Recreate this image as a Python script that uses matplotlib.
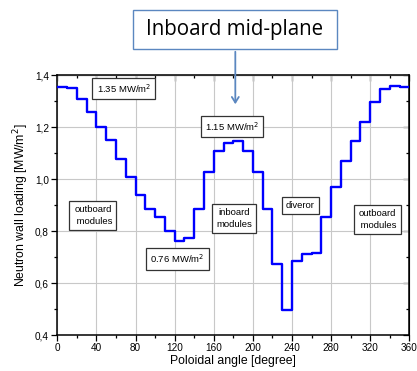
import numpy as np
import matplotlib
matplotlib.use('Agg')
import matplotlib.pyplot as plt
from matplotlib.patches import Rectangle, FancyArrowPatch
from matplotlib.ticker import MultipleLocator, FuncFormatter

plt.rcParams['font.family'] = ['Liberation Sans', 'DejaVu Sans']

# poloidal angle (left edge of each 10 degree module) and wall loading
angle = np.arange(0, 360, 10)
load = [1.355, 1.35, 1.31, 1.26, 1.20, 1.15, 1.08, 1.01, 0.94, 0.885,
        0.853, 0.80, 0.763, 0.775, 0.884, 1.027, 1.109, 1.141, 1.148, 1.11,
        1.03, 0.884, 0.672, 0.495, 0.685, 0.712, 0.715, 0.856, 0.969, 1.071,
        1.149, 1.221, 1.297, 1.349, 1.358, 1.357]

# text boxes: (label, angle, loading)
notes = [
    ('1.35 MW/m$^2$', 68, 1.349),
    ('1.15 MW/m$^2$', 178.6, 1.202),
    ('0.76 MW/m$^2$', 123, 0.693),
    ('outboard\n modules', 36.5, 0.86),
    ('inboard\nmodules', 181, 0.849),
    ('diveror', 248.7, 0.899),
    ('outboard\n modules', 327, 0.845),
]

fig = plt.figure(figsize=(4.17, 3.71), dpi=100)
ax = fig.add_axes([0.1374, 0.097, 0.8441, 0.6995])

x = np.append(angle, 360)
y = np.append(load, load[-1])
ax.step(x, y, where='post', color='#0000ff', lw=1.7, zorder=3)

ax.set_xlim(0, 360)
ax.set_ylim(0.4, 1.4)
ax.xaxis.set_major_locator(MultipleLocator(40))
ax.xaxis.set_minor_locator(MultipleLocator(20))
ax.yaxis.set_major_locator(MultipleLocator(0.2))
ax.yaxis.set_minor_locator(MultipleLocator(0.1))
ax.yaxis.set_major_formatter(FuncFormatter(lambda v, p: ('%.1f' % v).replace('.', ',')))
ax.grid(True, which='major', color='#c8c8c8', lw=0.8)
ax.tick_params(which='both', direction='out', labelsize=7.2, width=0.9, pad=2)
ax.tick_params(which='major', length=4)
ax.tick_params(which='minor', length=2.5)
for s in ax.spines.values():
    s.set_linewidth(1.1)

# mirrored inward ticks on top and right
top = ax.secondary_xaxis('top')
top.xaxis.set_major_locator(MultipleLocator(40))
top.xaxis.set_minor_locator(MultipleLocator(20))
top.tick_params(which='both', direction='in', labeltop=False, width=0.9)
top.tick_params(which='major', length=4)
top.tick_params(which='minor', length=2.5)
right = ax.secondary_yaxis('right')
right.yaxis.set_major_locator(MultipleLocator(0.2))
right.yaxis.set_minor_locator(MultipleLocator(0.1))
right.tick_params(which='both', direction='in', labelright=False, width=0.9)
right.tick_params(which='major', length=4)
right.tick_params(which='minor', length=2.5)

ax.set_xlabel('Poloidal angle [degree]', fontsize=8.8, labelpad=1)
ax.set_ylabel('Neutron wall loading [MW/m$^2$]', fontsize=8.8, labelpad=3)

for txt, a, v in notes:
    ax.text(a, v, txt, ha='center', va='center', fontsize=6.8, zorder=4,
            linespacing=1.4,
            bbox=dict(boxstyle='square,pad=0.45', fc='white', ec='#333333', lw=0.9))

# headline box with arrow pointing to the inboard mid-plane
frame_col = '#5b87c0'
fig.add_artist(Rectangle((0.319, 0.868), 0.489, 0.105, transform=fig.transFigure,
                         fc='white', ec=frame_col, lw=1.0))
fig.text(0.5636, 0.9205, 'Inboard mid-plane', ha='center', va='center',
         fontsize=14.8, family=['Open Sans', 'DejaVu Sans'])
fig.add_artist(FancyArrowPatch((0.5643, 0.868), (0.5643, 0.7116),
                               transform=fig.transFigure, arrowstyle='->,head_length=4,head_width=2.5',
                               color=frame_col, lw=1.3, mutation_scale=1))

fig.savefig('out.png', dpi=100)
